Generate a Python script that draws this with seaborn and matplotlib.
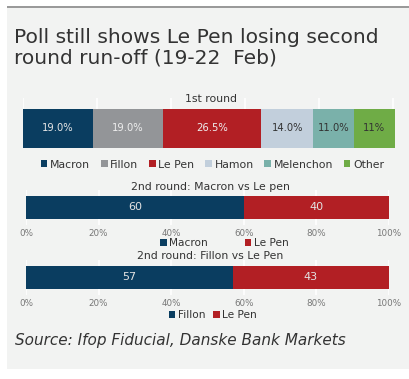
import matplotlib
matplotlib.use("Agg")
import matplotlib.pyplot as plt
from matplotlib.patches import Rectangle, Patch
import seaborn as sns
import pandas as pd
import numpy as np

# ---- data ----
parties1 = ["Macron", "Fillon", "Le Pen", "Hamon", "Melenchon", "Other"]
values1 = [19.0, 19.0, 26.5, 14.0, 11.0, 11.0]
labels1 = ["19.0%", "19.0%", "26.5%", "14.0%", "11.0%", "11%"]
colors1 = ["#0a3d60", "#939598", "#b21f24", "#c2cfdc", "#7ab1aa", "#6fac46"]
label_colors1 = ["#e6e6e6", "#eeeeee", "#eeeeee", "#333333", "#333333", "#333333"]

parties2 = ["Macron", "Le Pen"]
values2 = [60, 40]
parties3 = ["Fillon", "Le Pen"]
values3 = [57, 43]
colors2 = ["#0a3d60", "#b21f24"]

title1 = "1st round"
title2 = "2nd round: Macron vs Le pen"
title3 = "2nd round: Fillon vs Le Pen"
ticks = [0, 20, 40, 60, 80, 100]
tick_labels = ["0%", "20%", "40%", "60%", "80%", "100%"]

W, H = 409, 379
BG = "#f2f3f2"
TXT = "#333333"

sns.set_theme(style="white")
plt.rcParams["font.family"] = ["DejaVu Sans"]

fig = plt.figure(figsize=(W / 100, H / 100), dpi=100)
fig.patch.set_facecolor("white")

def fx(x): return x / W
def fy(y): return 1 - y / H

fig.patches.append(Rectangle((fx(7), fy(369)), fx(W) - fx(7), fy(8) - fy(369),
                             transform=fig.transFigure, facecolor=BG, edgecolor="none", zorder=-10))
fig.patches.append(Rectangle((fx(7), fy(8.3)), 1 - fx(7), fy(5.5) - fy(8.3),
                             transform=fig.transFigure, facecolor="#9a9a9a", edgecolor="none", zorder=-9))

def add_ax(l, r, t, b):
    return fig.add_axes([fx(l), fy(b), fx(r) - fx(l), fy(t) - fy(b)])

def stacked(ax, cats, vals, cols, name, width):
    cum = np.cumsum(vals)
    df = pd.DataFrame({"party": cats, "cum": cum, "round": name})
    order = list(cats)[::-1]
    sns.barplot(data=df, x="cum", y="round", hue="party", hue_order=order,
                palette=dict(zip(cats, cols)), dodge=False, width=width,
                legend=False, ax=ax, saturation=1, linewidth=0)
    ax.set_facecolor("none")
    for s in ax.spines.values():
        s.set_visible(False)
    ax.set_xlabel("")
    ax.set_ylabel("")
    ax.set_yticks([])
    ax.grid(axis="x", color="white", lw=1.2)
    ax.grid(axis="y", visible=False)
    ax.set_axisbelow(True)
    return cum

# first round
ax1 = add_ax(22.7, 394.6, 98, 148)
cum1 = stacked(ax1, parties1, values1, colors1, title1, 0.78)
ax1.set_xlim(0, sum(values1))
ax1.set_ylim(0.39, -0.61)
ax1.set_xticks(ticks)
ax1.set_xticklabels([])
ax1.tick_params(axis="x", length=0)
for c, v, lab, lc in zip(cum1, values1, labels1, label_colors1):
    ax1.text(c - v / 2, 0, lab, ha="center", va="center", fontsize=7.2, color=lc)

def second(ax, cats, vals):
    cum = stacked(ax, cats, vals, colors2, "r", 0.8)
    ax.set_xlim(0, 100)
    ax.set_ylim(0.609, -0.609)
    ax.set_xticks(ticks)
    ax.set_xticklabels(tick_labels)
    ax.tick_params(axis="x", length=0, pad=2.8, labelsize=6.3, labelcolor="#777777")
    for c, v in zip(cum, vals):
        ax.text(c - v / 2, 0, f"{v}", ha="center", va="center", fontsize=8, color="#e3e3e3")

ax2 = add_ax(26, 389, 190, 225)
second(ax2, parties2, values2)
ax3 = add_ax(26, 389, 260, 295)
second(ax3, parties3, values3)

# subtitles
fig.text(fx(211), fy(99.5), title1, ha="center", va="center", fontsize=7.8, color=TXT)
fig.text(fx(210.5), fy(187), title2, ha="center", va="center", fontsize=7.8, color=TXT)
fig.text(fx(210), fy(256), title3, ha="center", va="center", fontsize=7.8, color=TXT)

# legends
def legend(cats, cols, cx, cy, spacing, fs=7.8):
    handles = [Patch(facecolor=c, edgecolor="none", label=n) for n, c in zip(cats, cols)]
    fig.legend(handles=handles, loc="center", bbox_to_anchor=(fx(cx), fy(cy)),
               ncol=len(cats), frameon=False, fontsize=fs, handlelength=0.6,
               handleheight=0.6, handletextpad=0.25, columnspacing=spacing,
               borderpad=0, borderaxespad=0, labelcolor=TXT)

legend(parties1, colors1, 212.5, 164.5, 1.0)
legend(parties2, colors2, 224.5, 243.5, 3.5, fs=7.6)
legend(parties3, colors2, 213, 315, 0.75, fs=7.6)

# title & source, fitted to widths
renderer = fig.canvas.get_renderer()
def fitted(x0, yb, x1, s, fs, **kw):
    t = fig.text(fx(x0), fy(yb), s, ha="left", va="baseline", fontsize=fs, color=TXT, **kw)
    w = t.get_window_extent(renderer).width
    t.set_fontsize(fs * (x1 - x0) / w)
    return t

fitted(14, 42.7, 378, "Poll still shows Le Pen losing second", 13, fontweight="medium")
fitted(14, 63.5, 275, "round run-off (19-22  Feb)", 13, fontweight="medium")
fitted(14.7, 345, 345, "Source: Ifop Fiducial, Danske Bank Markets", 11, style="italic")

fig.savefig("out.png", dpi=100, facecolor=fig.get_facecolor())
